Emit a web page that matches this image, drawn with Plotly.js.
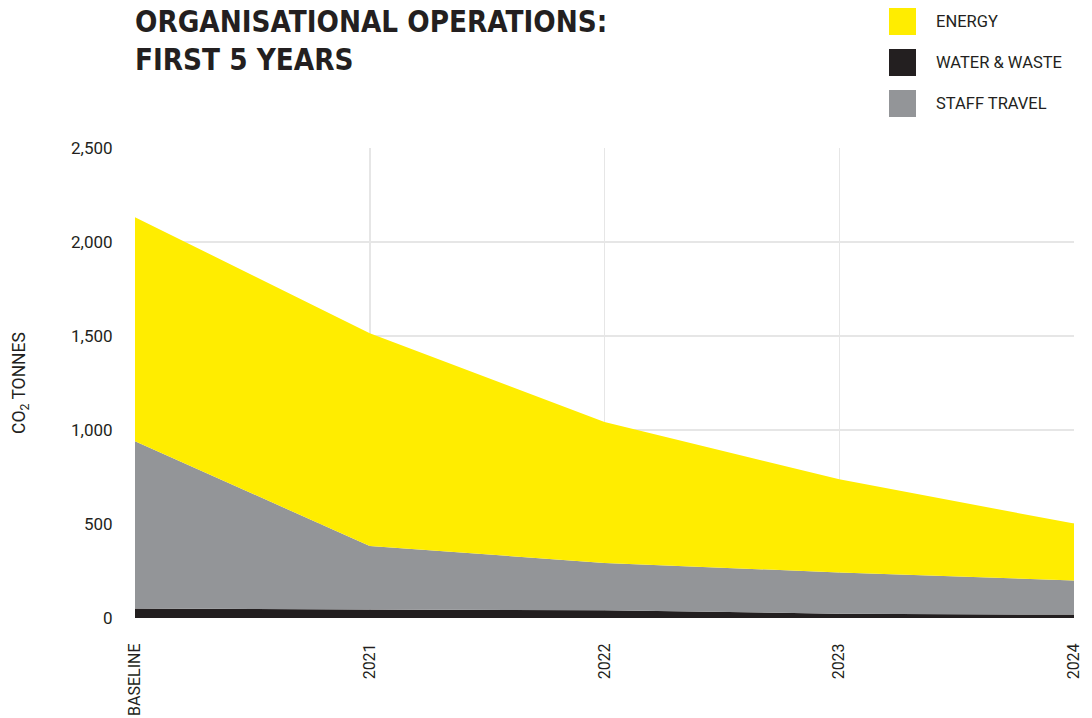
<!DOCTYPE html>
<html>
<head>
<meta charset="utf-8">
<script src="https://cdn.plot.ly/plotly-3.0.1.min.js"></script>
<style>
html,body{margin:0;padding:0;background:#fff;}
#chart{width:1092px;height:718px;}
</style>
</head>
<body>
<div id="chart"></div>
<script>
// Data (CO2 tonnes)
var categories = ["BASELINE", "2021", "2022", "2023", "2024"];
var waterWaste = [50, 45, 41, 23, 18];
var staffTravel = [890, 338, 252, 219, 182];
var energy = [1192, 1132, 750, 496, 302];
var seriesNames = ["ENERGY", "WATER & WASTE", "STAFF TRAVEL"];
var yTickVals = [0, 500, 1000, 1500, 2000, 2500];
var yTickText = ["0", "500", "1,000", "1,500", "2,000", "2,500"];

var colors = {
  "ENERGY": "#FFED00",
  "WATER & WASTE": "#231F20",
  "STAFF TRAVEL": "#939598"
};
var textColor = "#231F20";
var fontFamily = "Roboto, 'Noto Sans', sans-serif";

function areaTrace(name, values) {
  return {
    type: "scatter",
    mode: "none",
    x: categories,
    y: values,
    name: name,
    stackgroup: "one",
    fillcolor: colors[name],
    line: {width: 0},
    hoverinfo: "x+y+name",
    showlegend: false
  };
}

var traces = [
  areaTrace("WATER & WASTE", waterWaste),
  areaTrace("STAFF TRAVEL", staffTravel),
  areaTrace("ENERGY", energy)
];

// custom legend: squares + labels in paper coords
var shapes = [];
var annotations = [];
var plotLeft = 135, plotRight = 18, plotTop = 148, plotBottom = 100;
var W = 1092, H = 718;
var pw = W - plotLeft - plotRight, ph = H - plotTop - plotBottom;
function px2x(px) { return (px - plotLeft) / pw; }
function py2y(py) { return (H - plotBottom - py) / ph; }

seriesNames.forEach(function (n, i) {
  var cy = 21.5 + i * 41;
  shapes.push({
    type: "rect", xref: "paper", yref: "paper",
    x0: px2x(889), x1: px2x(916), y0: py2y(cy + 13.5), y1: py2y(cy - 13.5),
    fillcolor: colors[n], line: {width: 0}, layer: "above"
  });
  annotations.push({
    xref: "paper", yref: "paper", x: px2x(934), y: py2y(cy),
    xanchor: "left", yanchor: "middle", showarrow: false,
    text: n, font: {family: fontFamily, size: 16.5, color: textColor}
  });
});

var layout = {
  width: W, height: H,
  paper_bgcolor: "#ffffff", plot_bgcolor: "#ffffff",
  margin: {l: plotLeft, r: plotRight, t: plotTop, b: plotBottom, pad: 0},
  font: {family: fontFamily, color: textColor},
  showlegend: false,
  title: {
    text: "<b>ORGANISATIONAL OPERATIONS:<br>FIRST 5 YEARS</b>",
    font: {family: "'Liberation Sans Narrow', 'DejaVu Sans Condensed', Roboto, sans-serif", size: 29.3, color: textColor},
    xref: "paper", x: 0, xanchor: "left",
    yref: "container", y: 0.956, yanchor: "top"
  },
  xaxis: {
    type: "category",
    range: [0, 4],
    showgrid: true, gridcolor: "#e6e6e6", gridwidth: 1.5,
    zeroline: false, showline: false,
    ticks: "outside", ticklen: 18, tickcolor: "rgba(0,0,0,0)",
    tickangle: -90,
    tickfont: {family: fontFamily, size: 16, color: textColor},
    fixedrange: true
  },
  yaxis: {
    range: [0, 2500],
    tickvals: yTickVals, ticktext: yTickText,
    showgrid: true, gridcolor: "#e6e6e6", gridwidth: 1.5,
    zeroline: false, showline: false,
    ticks: "outside", ticklen: 18, tickcolor: "rgba(0,0,0,0)",
    tickfont: {family: fontFamily, size: 17, color: textColor},
    title: {text: "CO<sub>2</sub> TONNES", font: {family: fontFamily, size: 17.5, color: textColor}, standoff: 40},
    automargin: false,
    fixedrange: true
  },
  shapes: shapes,
  annotations: annotations
};

Plotly.newPlot("chart", traces, layout, {displayModeBar: false, staticPlot: true});
</script>
</body>
</html>
